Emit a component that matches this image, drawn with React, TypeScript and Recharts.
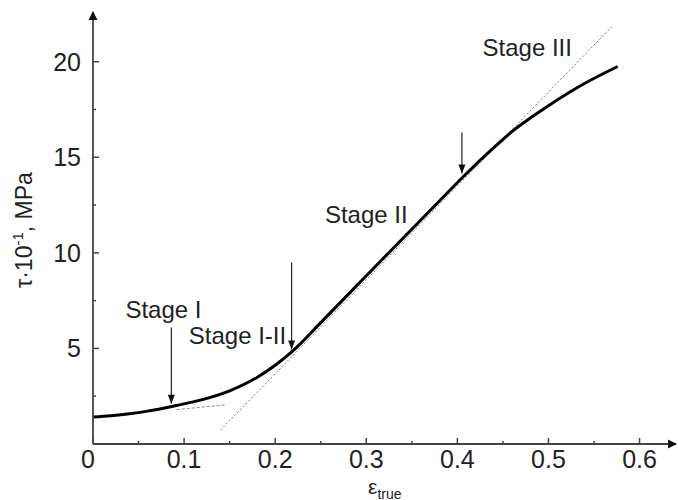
import React from 'react';
import { ComposedChart, Line, XAxis, YAxis, Scatter, ReferenceDot } from 'recharts';

// flow curve (true strain vs resolved shear stress, x10 MPa)
const strain = [0, 0.02, 0.04, 0.06, 0.09, 0.12, 0.15, 0.18, 0.2, 0.22, 0.25, 0.3, 0.34, 0.38, 0.41, 0.44, 0.46, 0.48, 0.5, 0.53, 0.555, 0.576];
const stress = [1.41, 1.48, 1.58, 1.72, 2.0, 2.32, 2.78, 3.48, 4.12, 4.9, 6.35, 8.8, 10.75, 12.7, 14.15, 15.5, 16.35, 17.05, 17.7, 18.6, 19.25, 19.75];

// stage II tangent and stage I tangent
const tangentX = [0.14, 0.571];
const tangentY = [0.73, 21.9];
const stageOneX = [0.092, 0.145];
const stageOneY = [1.8, 2.05];

// arrows marking stage boundaries
const arrowX = [0.086, 0.218, 0.405];
const arrowTop = [6.1, 9.5, 16.3];
const arrowTip = [2.1, 4.95, 14.15];

const stageLabels = ['Stage I', 'Stage I-II', 'Stage II', 'Stage III'];
const stageX = [0.0773, 0.1586, 0.3, 0.4767];
const stageY = [7.0, 5.65, 12.0, 20.7];

const xTicks = [0, 0.05, 0.1, 0.15, 0.2, 0.25, 0.3, 0.35, 0.4, 0.45, 0.5, 0.55, 0.6];
const yTicks = [0, 2.5, 5, 7.5, 10, 12.5, 15, 17.5, 20];
const xMajor = ['0', '', '0.1', '', '0.2', '', '0.3', '', '0.4', '', '0.5', '', '0.6'];
const yMajor = ['', '', '5', '', '10', '', '15', '', '20'];

const X_MAX = 0.64;
const Y_MAX = 22.6;

const FONT = '"Liberation Sans", Arial, sans-serif';
const AXIS = '#444';

const curve = strain.map((x, i) => ({ x, y: stress[i] }));
const tangent = tangentX.map((x, i) => ({ x, y: tangentY[i] }));
const stageOne = stageOneX.map((x, i) => ({ x, y: stageOneY[i] }));
const arrows = arrowX.map((x, i) => [{ x, y: arrowTop[i] }, { x, y: arrowTip[i] }]);

function XTick({ x, y, payload, index }: any) {
  const label = xMajor[index] ?? '';
  const major = label !== '';
  return (
    <g>
      <line x1={x} x2={x} y1={y} y2={y - (major ? 6 : 3)} stroke={AXIS} strokeWidth={1.5} />
      <text
        x={payload.value === 0 ? x - 5 : x}
        y={y + 24}
        textAnchor="middle"
        fontFamily={FONT}
        fontSize={25}
        fill="#222"
      >
        {label}
      </text>
    </g>
  );
}

function YTick({ x, y, index }: any) {
  const label = yMajor[index] ?? '';
  const major = label !== '' || index === 0;
  return (
    <g>
      <line x1={x} x2={x + (major ? 6 : 3)} y1={y} y2={y} stroke={AXIS} strokeWidth={1.5} />
      <text x={x - 12} y={y + 9} textAnchor="end" fontFamily={FONT} fontSize={25} fill="#222">
        {label}
      </text>
    </g>
  );
}

function YTitle({ viewBox }: any) {
  const cx = viewBox.x + 32;
  const cy = viewBox.y + viewBox.height / 2 + 2;
  return (
    <text
      transform={`translate(${cx},${cy}) rotate(-90)`}
      textAnchor="middle"
      fontFamily={FONT}
      fontSize={23}
      fill="#222"
    >
      τ·10<tspan dy={-9} fontSize={15}>-1</tspan>
      <tspan dy={9}>, MPa</tspan>
    </text>
  );
}

function XTitle({ viewBox }: any) {
  const sx = viewBox.x + 275;
  return (
    <text x={sx} y={viewBox.y + 50} fontFamily={FONT} fontSize={21} fill="#222">
      ε<tspan dy={5} fontSize={14}>true</tspan>
    </text>
  );
}

function ArrowDot(props: any) {
  const { cx, cy, index } = props;
  if (index !== 1) return <g key={`a${index}`} />;
  return <polygon key={`a${index}`} points={`${cx - 3.5},${cy - 9} ${cx + 3.5},${cy - 9} ${cx},${cy}`} fill="#111" />;
}

const axisHeads = [
  { x: X_MAX, y: 0, dir: 'right' },
  { x: 0, y: Y_MAX, dir: 'up' },
];

function AxisHead(props: any) {
  const { cx, cy, payload } = props;
  if (payload.dir === 'right') {
    return <polygon points={`${cx - 8},${cy - 4.5} ${cx - 8},${cy + 4.5} ${cx + 1},${cy}`} fill="#111" />;
  }
  return <polygon points={`${cx - 4.5},${cy + 8} ${cx + 4.5},${cy + 8} ${cx},${cy - 1}`} fill="#111" />;
}

export default function App() {
  return (
    <div style={{ position: 'absolute', left: 0, top: 0, width: 678, height: 500, background: '#fff' }}>
      <ComposedChart width={678} height={500} margin={{ top: 12, right: 2, bottom: 0, left: 0 }}>
        <XAxis
          type="number"
          dataKey="x"
          domain={[0, X_MAX]}
          ticks={xTicks}
          interval={0}
          height={56}
          tickSize={0}
          tickMargin={0}
          tickLine={false}
          axisLine={{ stroke: AXIS, strokeWidth: 1.8 }}
          tick={<XTick />}
          label={<XTitle />}
        />
        <YAxis
          type="number"
          dataKey="y"
          domain={[0, Y_MAX]}
          ticks={yTicks}
          interval={0}
          width={93}
          tickSize={0}
          tickMargin={0}
          tickLine={false}
          axisLine={{ stroke: AXIS, strokeWidth: 1.8 }}
          tick={<YTick />}
          label={<YTitle />}
        />
        <Line data={tangent} dataKey="y" stroke="#777" strokeWidth={1} strokeDasharray="2 2" dot={false} isAnimationActive={false} />
        <Line data={stageOne} dataKey="y" stroke="#888" strokeWidth={1} strokeDasharray="3 2" dot={false} isAnimationActive={false} />
        <Line data={curve} dataKey="y" type="monotone" stroke="#000" strokeWidth={3} dot={false} isAnimationActive={false} />
        {arrows.map((a, i) => (
          <Line key={i} data={a} dataKey="y" stroke="#222" strokeWidth={1.2} dot={<ArrowDot />} isAnimationActive={false} />
        ))}
        <Scatter data={axisHeads} dataKey="y" shape={<AxisHead />} isAnimationActive={false} />
        {stageLabels.map((t, i) => (
          <ReferenceDot
            key={t}
            x={stageX[i]}
            y={stageY[i]}
            r={0}
            ifOverflow="visible"
            shape={(p: any) => (
              <text x={p.cx} y={p.cy + 8} textAnchor="middle" fontFamily={FONT} fontSize={24} fill="#222">
                {t}
              </text>
            )}
          />
        ))}
      </ComposedChart>
    </div>
  );
}
